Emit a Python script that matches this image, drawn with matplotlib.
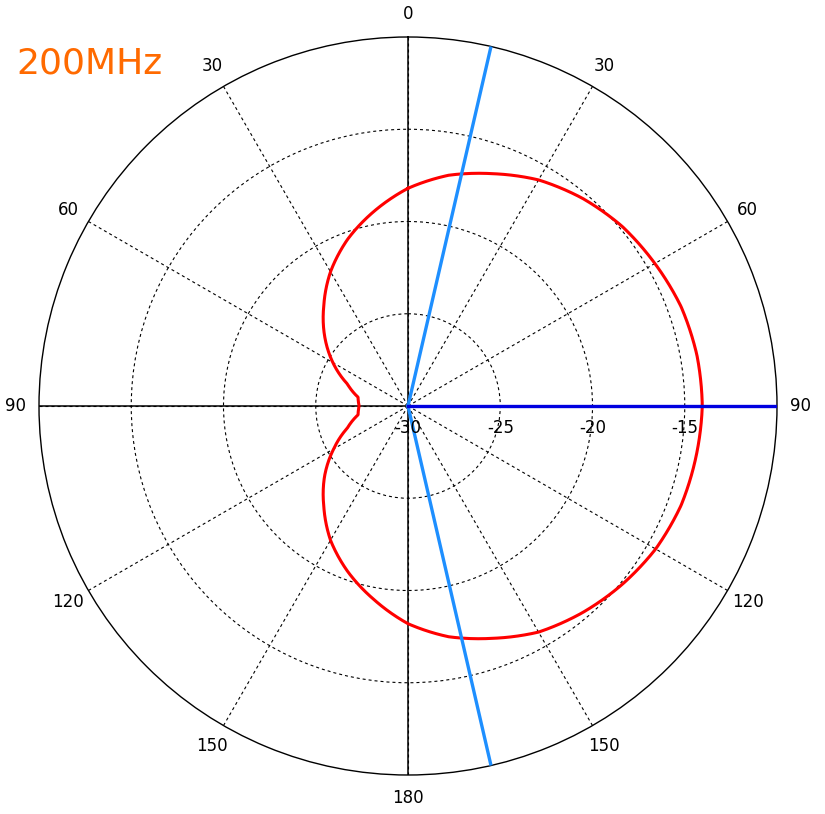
import numpy as np
import matplotlib
matplotlib.use("Agg")
import matplotlib.pyplot as plt
from matplotlib.transforms import offset_copy

# pattern angles (deg, clockwise from top) and gain (dB)
angles_deg = [0, 10, 20, 30, 40, 50, 60, 70, 80, 90, 100, 110, 120, 130, 140, 150,
              160, 170, 180, 190, 200, 210, 220, 230, 240, 250, 260, 270, 280, 290,
              300, 310, 320, 330, 340, 350, 360]
gain_db = [-18.2, -17.3, -16.6, -15.85, -15.3, -14.85, -14.55, -14.25, -14.1, -14.05,
           -14.15, -14.25, -14.5, -14.9, -15.35, -15.85, -16.6, -17.3, -18.2, -19.35,
           -20.45, -21.6, -22.9, -24.1, -25.35, -26.5, -27.25, -27.35, -27.25, -26.5,
           -25.3, -24.1, -22.9, -21.6, -20.4, -19.3, -18.2]

beam_angles = [13, 167]      # light blue markers
main_angle = 90              # dark blue marker
r_min, r_max = -30, -10
r_ticks = [-30, -25, -20, -15]
theta_ticks = [0, 30, 60, 90, 120, 150, 180, 210, 240, 270, 300, 330]
theta_labels = ["0", "30", "60", "90", "120", "150", "180", "150", "120", "90", "60", "30"]
freq_label = "200MHz"

fig = plt.figure(figsize=(8.25, 8.14), dpi=100)
ax = fig.add_axes([39 / 825, 39 / 814, 738 / 825, 738 / 814], projection="polar")
ax.set_theta_zero_location("N")
ax.set_theta_direction(-1)
ax.set_ylim(r_min, r_max)

# grid
ax.set_thetagrids(theta_ticks, labels=[""] * len(theta_ticks))
ax.set_rgrids([-25, -20, -15], labels=["", "", ""])
ax.grid(True, color="black", linestyle=(0, (2.7, 2.7)), linewidth=0.8)
for a in [0, 90, 180, 270]:
    ax.axvline(np.deg2rad(a), color="black", linewidth=1.1, zorder=2)
ax.spines["polar"].set_linewidth(1.0)
ax.spines["polar"].set_color("black")
ax.tick_params(length=0)

# pattern (drawn along arcs between samples, like a polar plot should)
line, = ax.plot(np.deg2rad(angles_deg), gain_db, color="#FF0000", linewidth=2.2, zorder=4)
line.get_path()._interpolation_steps = 40

for a in beam_angles:
    ax.plot([np.deg2rad(a)] * 2, [r_min, r_max], color="#1E8FFF", linewidth=2.4, zorder=5)
ax.plot([np.deg2rad(main_angle)] * 2, [r_min, r_max], color="#0000E0", linewidth=2.4, zorder=5)

# angle labels
for a, lab in zip(theta_ticks, theta_labels):
    ax.text(np.deg2rad(a), -8.75, lab, ha="center", va="center", fontsize=12,
            clip_on=False, color="black")

# radial labels below the horizontal axis
tr = offset_copy(ax.transData, fig=fig, y=-22, units="dots")
for r in r_ticks:
    ax.text(np.pi / 2, r, str(r), transform=tr, ha="center", va="center", fontsize=12,
            color="black", zorder=6)

fig.text(16 / 825, 1 - 63 / 814, freq_label, color="#FF6A00", fontsize=26,
         ha="left", va="center")

fig.savefig("out.png", dpi=100)
